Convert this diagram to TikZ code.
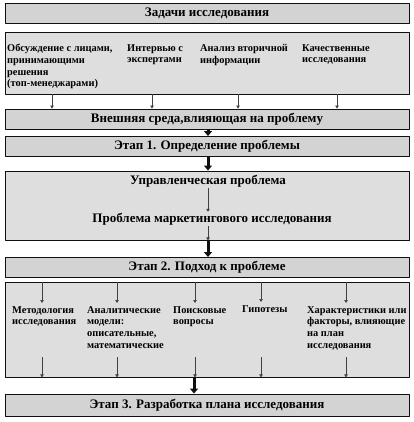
\documentclass[tikz,border=0pt]{standalone}
\usepackage{fontspec}
\setmainfont{Liberation Serif}
\usetikzlibrary{calc,arrows.meta}
\newcommand{\BoxW}{404pt}
\newcommand{\Edge}{0.9pt}
\definecolor{stagegray}{HTML}{D3D3D3}
\definecolor{panelgray}{HTML}{DEDEDE}
\definecolor{ink}{HTML}{101010}
\definecolor{wire}{HTML}{404040}

\begin{document}
\begin{tikzpicture}[x=1pt,y=-1pt, line join=round,
  stagebox/.style={draw=ink, line width=\Edge, fill=stagegray, minimum width=\BoxW,
    minimum height=20pt, inner sep=0pt, font=\fontsize{13}{15}\selectfont\bfseries},
  panel/.style={draw=ink, line width=\Edge, fill=panelgray, minimum width=\BoxW, inner sep=0pt},
  headtext/.style={inner sep=1pt, font=\fontsize{13}{15}\selectfont\bfseries},
  item/.style={align=left, anchor=north west, inner sep=0pt,
    font=\fontsize{10.4}{11.7}\selectfont\bfseries},
  fatarrow/.style={ink, line width=3pt, -{Triangle[length=5pt,width=8pt]}},
  thinarrow/.style={wire, line width=0.6pt, -{Triangle[length=3pt,width=3.5pt]}}]

  \useasboundingbox (0,0) rectangle (413,422);

  % ---- research tasks and their sources -----------------------------------
  \node[stagebox] (tasks) at (207,13) {Задачи исследования};
  \node[panel, minimum height=62pt] (sources) at (207,63) {};
  \node[item] (talks) at (7,44) {Обсуждение с лицами,\\принимающими\\решения\\(топ-менеджарами)};
  \node[item] (experts) at (127,44) {Интервью с\\экспертами};
  \node[item] (secondary) at (200,44) {Анализ вторичной\\информации};
  \node[item] (quality) at (302,44) {Качественные\\исследования};

  \node[stagebox] (env) at (207,119) {Внешняя среда,влияющая на проблему};
  \foreach \n/\dx in {talks/45, experts/25, secondary/38, quality/35} {
    \draw[thinarrow] ($(\n.north west |- sources.south)+(\dx,0)$)
      -- ($(\n.north west |- env.north)+(\dx,0)$);
  }

  % ---- stage 1 ------------------------------------------------------------
  \node[stagebox] (stage1) at (207,146.5) {Этап 1. Определение проблемы};
  \node[panel, minimum height=69pt] (mgmt) at (207,205.5) {};
  \node[headtext] (mgmtprob) at (208,181) {Управленческая проблема};
  \node[headtext] (mrprob) at (212,219) {Проблема маркетингового исследования};
  \draw[thinarrow] (mgmtprob.south) -- (mgmtprob.south |- mrprob.north);
  \draw[thinarrow] (mgmtprob.south |- mrprob.south) -- (mgmtprob.south |- mgmt.south);

  % ---- stage 2 ------------------------------------------------------------
  \node[stagebox] (stage2) at (207,267.5) {Этап 2. Подход к проблеме};
  \node[panel, minimum height=95pt] (approach) at (207,329.5) {};
  \node[item] (method) at (12,306) {Методология\\исследования};
  \node[item] (models) at (87,306) {Аналитические\\модели:\\описательные,\\математические};
  \node[item] (questions) at (173,306) {Поисковые\\вопросы};
  \node[item] (hypo) at (242,305) {Гипотезы};
  \node[item] (factors) at (307,306) {Характеристики или\\факторы, влияющие\\на план\\исследования};
  \foreach \n/\dx in {method/30, models/30, questions/22, hypo/19, factors/39} {
    \draw[thinarrow] ($(\n.north west |- approach.north)+(\dx,0)$)
      -- ($(\n.north west)+(\dx,-3)$);
    \draw[thinarrow] ($(\n.north west |- approach.south)+(\dx,-20)$)
      -- ($(\n.north west |- approach.south)+(\dx,0)$);
  }

  % ---- stage 3 ------------------------------------------------------------
  \node[stagebox, minimum height=22pt] (stage3) at (207,405) {Этап 3. Разработка плана исследования};

  % ---- the main flow ------------------------------------------------------
  \draw[fatarrow] ($(env.south)+(1,0)$) -- ($(stage1.north)+(1,0)$);
  \draw[fatarrow] ($(stage1.south)+(1,0)$) -- ($(mgmt.north)+(1,0)$);
  \draw[fatarrow] ($(mgmt.south)+(1,0)$) -- ($(stage2.north)+(1,0)$);
  \draw[fatarrow] ($(approach.south)+(-13,0)$) -- ($(stage3.north)+(-13,0)$);

\end{tikzpicture}
\end{document}
